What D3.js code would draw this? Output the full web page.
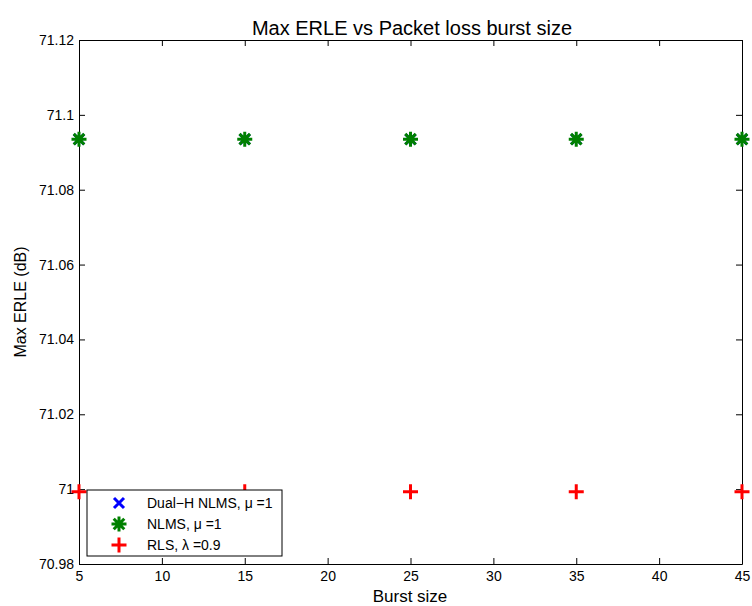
<!DOCTYPE html>
<html>
<head>
<meta charset="utf-8">
<script src="https://cdn.jsdelivr.net/npm/d3@7"></script>
<style>
body{margin:0;background:#fff;}
svg text{font-family:"Liberation Sans",Arial,sans-serif;fill:#000;}
</style>
</head>
<body>
<svg id="chart" width="752" height="606"></svg>
<script>
'use strict'
// data
var burstSizes = [5, 15, 25, 35, 45];
var dualHValues = [71.0935, 71.0935, 71.0935, 71.0935, 71.0935];
var nlmsValues = [71.0935, 71.0935, 71.0935, 71.0935, 71.0935];
var rlsValues = [70.9993, 70.9993, 70.9993, 70.9993, 70.9993];
var xTicks = [5, 10, 15, 20, 25, 30, 35, 40, 45];
var yTicks = [70.98, 71, 71.02, 71.04, 71.06, 71.08, 71.1, 71.12];
var seriesNames = ['Dual\u2212H NLMS, \u03bc =1', 'NLMS, \u03bc =1', 'RLS, \u03bb =0.9'];

var series = [
	{name: seriesNames[0], values: dualHValues, color: '#0000ff', marker: 'x'}
	,{name: seriesNames[1], values: nlmsValues, color: '#008000', marker: 'star'}
	,{name: seriesNames[2], values: rlsValues, color: '#ff0000', marker: 'plus'}
];

var m = {left: 79, right: 10, top: 40, bottom: 42};
var W = 752, H = 606;
var svg = d3.select('#chart');

var x = d3.scaleLinear().domain([5, 45]).range([m.left, W - m.right]);
var y = d3.scaleLinear().domain([70.98, 71.12]).range([H - m.bottom, m.top]);

var fmt = function(d){ return String(+d.toFixed(2)); };

// axes (ticks inward, mirrored on top/right)
var g = svg.append('g');
g.append('g').attr('transform', 'translate(0,' + y.range()[0] + ')')
	.call(d3.axisBottom(x).tickValues(xTicks).tickSizeInner(-6).tickSizeOuter(0).tickPadding(7).tickFormat(fmt));
g.append('g').attr('transform', 'translate(0,' + y.range()[1] + ')')
	.call(d3.axisTop(x).tickValues(xTicks).tickSizeInner(-6).tickSizeOuter(0).tickFormat(''));
g.append('g').attr('transform', 'translate(' + x.range()[0] + ',0)')
	.call(d3.axisLeft(y).tickValues(yTicks).tickSizeInner(-6).tickSizeOuter(0).tickPadding(5).tickFormat(fmt));
g.append('g').attr('transform', 'translate(' + x.range()[1] + ',0)')
	.call(d3.axisRight(y).tickValues(yTicks).tickSizeInner(-6).tickSizeOuter(0).tickFormat(''));
g.selectAll('.domain').attr('stroke', '#000').attr('stroke-width', 1);
g.selectAll('.tick line').attr('stroke', '#000');
g.selectAll('.tick text').attr('font-size', 14).style('font-family', '"Liberation Sans",Arial,sans-serif');

// marker shapes
function drawMarker(sel, type, color, r){
	var p;
	if(type === 'x') p = 'M' + (-r) + ',' + (-r) + 'L' + r + ',' + r + 'M' + (-r) + ',' + r + 'L' + r + ',' + (-r);
	else if(type === 'plus') p = 'M' + (-r) + ',0L' + r + ',0M0,' + (-r) + 'L0,' + r;
	else {
		var d = r * 0.707;
		p = 'M' + (-r) + ',0L' + r + ',0M0,' + (-r) + 'L0,' + r
			+ 'M' + (-d) + ',' + (-d) + 'L' + d + ',' + d + 'M' + (-d) + ',' + d + 'L' + d + ',' + (-d);
	}
	sel.append('path').attr('d', p).attr('fill', 'none').attr('stroke', color)
		.attr('stroke-width', 3).attr('stroke-linecap', 'butt');
}

var plot = svg.append('g');
series.forEach(function(s){
	var r = s.marker === 'x' ? 5 : 7.5;
	plot.selectAll(null).data(s.values).enter().append('g')
		.attr('transform', function(d, i){ return 'translate(' + x(burstSizes[i]) + ',' + y(d) + ')'; })
		.each(function(){ drawMarker(d3.select(this), s.marker, s.color, r); });
});

// title and axis labels
svg.append('text').attr('x', 412).attr('y', 35).attr('text-anchor', 'middle')
	.attr('font-size', 20).text('Max ERLE vs Packet loss burst size');
svg.append('text').attr('x', 410).attr('y', 602).attr('text-anchor', 'middle')
	.attr('font-size', 17).text('Burst size');
svg.append('text').attr('transform', 'translate(26,' + ((m.top + H - m.bottom) / 2) + ') rotate(-90)')
	.attr('text-anchor', 'middle').attr('font-size', 16).text('Max ERLE (dB)');

// legend
var lg = svg.append('g').attr('transform', 'translate(87,490)');
lg.append('rect').attr('width', 195).attr('height', 66).attr('fill', '#fff').attr('stroke', '#000');
series.forEach(function(s, i){
	var row = lg.append('g').attr('transform', 'translate(32,' + (13 + i * 21) + ')');
	drawMarker(row, s.marker, s.color, s.marker === 'x' ? 5 : 7.5);
	row.append('text').attr('x', 28).attr('y', 5).attr('font-size', 14).text(s.name);
});
</script>
</body>
</html>
